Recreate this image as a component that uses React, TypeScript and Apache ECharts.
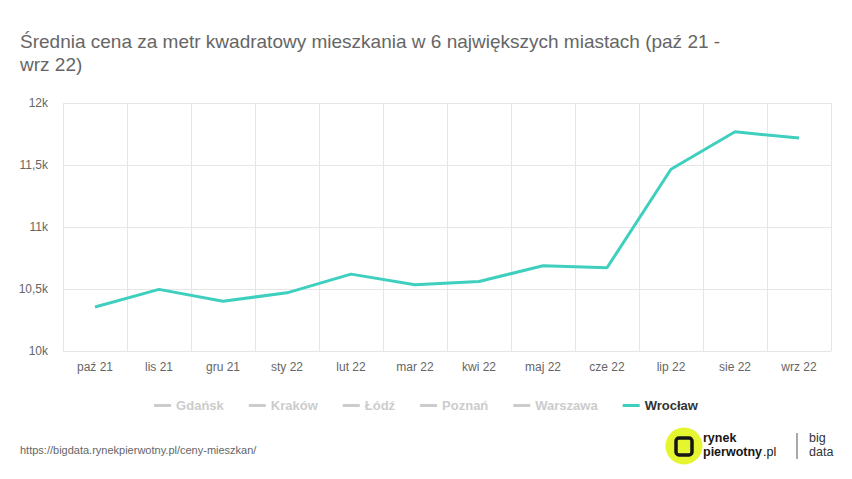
import React, { useEffect, useRef } from "react";
import * as echarts from "echarts";

const categories = ["paź 21", "lis 21", "gru 21", "sty 22", "lut 22", "mar 22", "kwi 22", "maj 22", "cze 22", "lip 22", "sie 22", "wrz 22"];
const wroclaw = [10355, 10497, 10402, 10469, 10620, 10534, 10561, 10687, 10671, 11466, 11768, 11717];
const hiddenCities = ["Gdańsk", "Kraków", "Łódź", "Poznań", "Warszawa"];
const titleText = "Średnia cena za metr kwadratowy mieszkania w 6 największych miastach (paź 21 -\nwrz 22)";
const sourceText = "https://bigdata.rynekpierwotny.pl/ceny-mieszkan/";

const FONT = "Liberation Sans, Arial, sans-serif";

export default function App() {
  const ref = useRef<HTMLDivElement>(null);
  useEffect(() => {
    if (!ref.current) return;
    const chart = echarts.init(ref.current, null, { renderer: "svg" });
    const selected: Record<string, boolean> = {};
    hiddenCities.forEach((c) => (selected[c] = false));
    selected["Wrocław"] = true;
    const series: any[] = hiddenCities.map((c) => ({
      name: c,
      type: "line",
      data: [],
      showSymbol: false,
      lineStyle: { width: 3, color: "#cccccc" },
      itemStyle: { color: "#cccccc" },
    }));
    series.push({
      name: "Wrocław",
      type: "line",
      data: wroclaw,
      showSymbol: false,
      symbol: "none",
      lineStyle: { width: 3, color: "#3ecfbe" },
      itemStyle: { color: "#3ecfbe" },
    });
    const small = (text: string, x: number, y: number, bold: boolean, color: string) => ({
      type: "text",
      x,
      y,
      style: {
        text,
        fill: color,
        fontSize: 12.5,
        lineHeight: 12.5,
        fontWeight: bold ? "bold" : "normal",
        fontFamily: FONT,
        textVerticalAlign: "top",
      },
    });
    chart.setOption({
      animation: false,
      backgroundColor: "#ffffff",
      title: {
        text: titleText,
        left: 20,
        top: 30,
        padding: 0,
        textStyle: {
          fontFamily: FONT,
          fontSize: 19,
          fontWeight: "normal",
          color: "#666666",
          lineHeight: 23,
        },
      },
      legend: {
        data: [...hiddenCities, "Wrocław"],
        selected,
        left: "center",
        top: 394,
        itemGap: 25,
        itemWidth: 17,
        itemHeight: 3,
        icon: "rect",
        inactiveColor: "#cccccc",
        textStyle: {
          fontFamily: FONT,
          fontSize: 13,
          fontWeight: "bold",
          color: "#333333",
        },
      },
      grid: { left: 63, right: 21, top: 103, bottom: 128, containLabel: false },
      xAxis: {
        type: "category",
        data: categories,
        boundaryGap: true,
        axisLine: { show: true, lineStyle: { color: "#e6e6e6" } },
        axisTick: { show: false },
        splitLine: { show: true, lineStyle: { color: "#e6e6e6" } },
        axisLabel: {
          color: "#666666",
          fontSize: 12,
          fontFamily: FONT,
          margin: 10,
          interval: 0,
        },
      },
      yAxis: {
        type: "value",
        min: 10000,
        max: 12000,
        interval: 500,
        axisLine: { show: false },
        axisTick: { show: false },
        splitLine: { show: true, lineStyle: { color: "#e6e6e6" } },
        axisLabel: {
          color: "#666666",
          fontSize: 12,
          fontFamily: FONT,
          margin: 15,
          formatter: (v: number) => (v / 1000).toString().replace(".", ",") + "k",
        },
      },
      series,
      graphic: [
        {
          type: "text",
          left: 20,
          top: 444,
          style: {
            text: sourceText,
            fill: "#666666",
            fontSize: 11,
            fontFamily: FONT,
          },
        },
        {
          type: "circle",
          shape: { cx: 684, cy: 446, r: 18.5 },
          style: { fill: "#e5f530" },
        },
        {
          type: "rect",
          shape: { x: 676, y: 438, width: 16, height: 17, r: 3 },
          style: { fill: "none", stroke: "#151515", lineWidth: 3.5 },
        },
        small("rynek", 703, 432, true, "#151515"),
        small("pierwotny", 703, 446, true, "#151515"),
        small(".pl", 763, 446, false, "#151515"),
        {
          type: "line",
          shape: { x1: 797, y1: 433, x2: 797, y2: 459 },
          style: { stroke: "#555555", lineWidth: 1 },
        },
        small("big", 809, 432, false, "#333333"),
        small("data", 809, 446, false, "#333333"),
      ],
    });
    return () => chart.dispose();
  }, []);
  return <div ref={ref} style={{ width: 852, height: 479, position: "absolute", left: 0, top: 0 }} />;
}
